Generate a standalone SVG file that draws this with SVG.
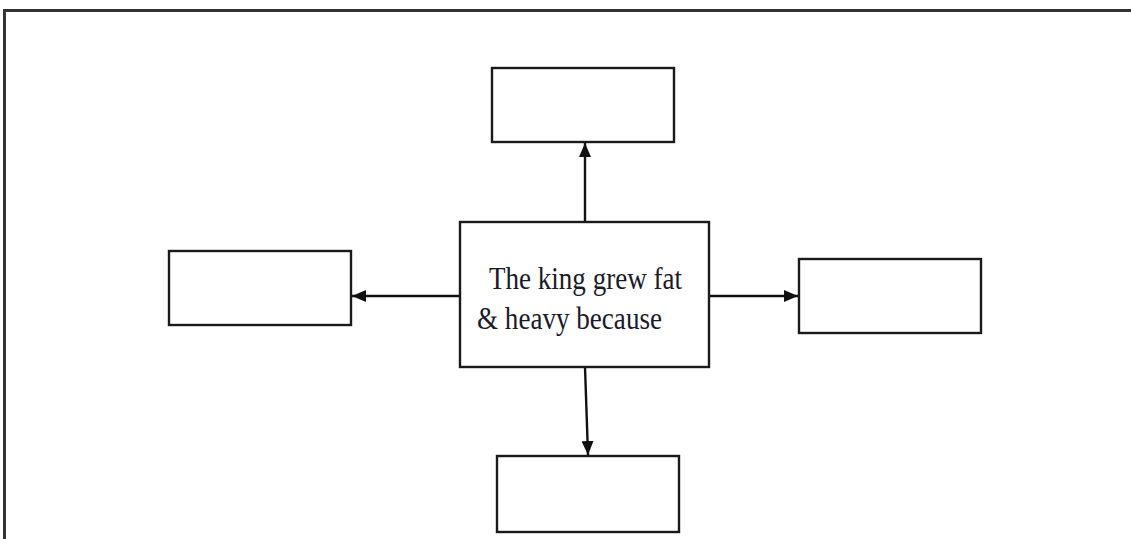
<svg xmlns="http://www.w3.org/2000/svg" width="1131" height="539" viewBox="0 0 1131 539">
<style>
.box{fill:#fff;stroke:#1a1a1a;stroke-width:2.4}
.conn{stroke:#111;stroke-width:2.4;fill:none;marker-end:url(#ah)}
.frame{stroke:#333;stroke-width:3;fill:none}
.lbl{font-family:"Liberation Serif","Times New Roman",serif;font-size:32px;fill:#1a1a2a}
</style>
<defs>
<marker id="ah" viewBox="0 0 14 12" refX="14" refY="6" markerWidth="14" markerHeight="12" markerUnits="userSpaceOnUse" orient="auto">
<path d="M0,0 L14,6 L0,12 Z" fill="#111"/>
</marker>
</defs>
<rect width="1131" height="539" fill="#fff"/>
<path class="frame" d="M4.5,539 V10.5 H1131"/>
<g id="connectors">
<line class="conn" x1="585" y1="222" x2="585" y2="143"/>
<line class="conn" x1="460" y1="296" x2="352" y2="296"/>
<line class="conn" x1="709" y1="296" x2="798" y2="296"/>
<line class="conn" x1="585" y1="367" x2="588" y2="455"/>
</g>
<g id="center">
<rect class="box" x="460" y="222" width="249" height="145"/>
<text class="lbl" x="489" y="289" textLength="193" lengthAdjust="spacingAndGlyphs">The king grew fat</text>
<text class="lbl" x="477" y="329" textLength="185" lengthAdjust="spacingAndGlyphs">&amp; heavy because</text>
</g>
<g id="top"><rect class="box" x="492" y="68" width="182" height="74"/></g>
<g id="left"><rect class="box" x="169" y="251" width="182" height="74"/></g>
<g id="right"><rect class="box" x="799" y="259" width="182" height="74"/></g>
<g id="bottom"><rect class="box" x="497" y="456" width="182" height="76"/></g>
</svg>
